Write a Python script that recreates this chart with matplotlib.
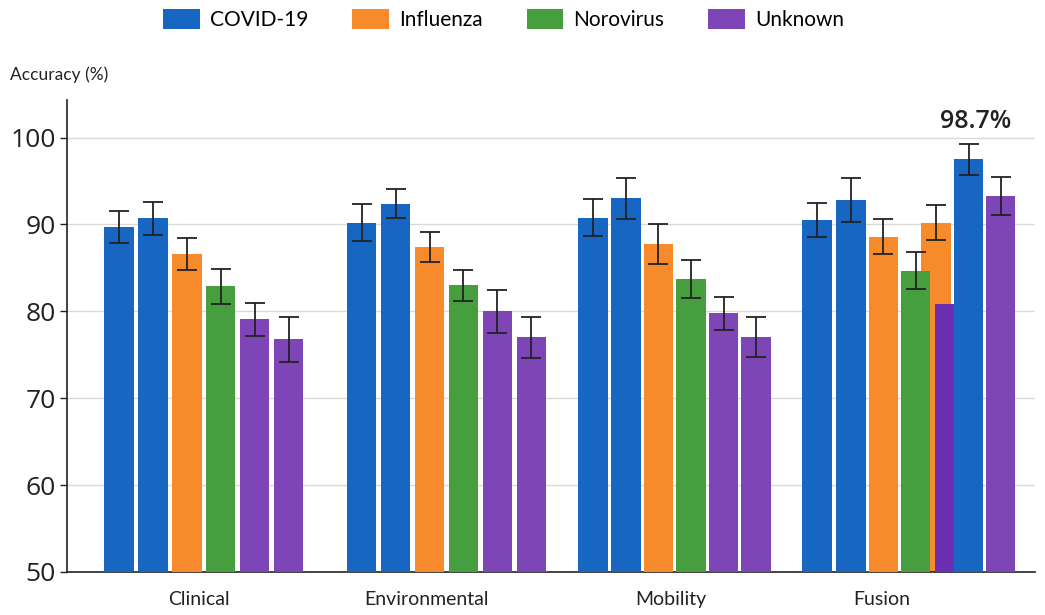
import numpy as np
import matplotlib
matplotlib.use("Agg")
import matplotlib.pyplot as plt
from matplotlib.patches import Patch

plt.rcParams['font.family'] = ['Open Sans', 'DejaVu Sans']
label_font = ['Lato', 'DejaVu Sans']

# data
categories = ['Clinical', 'Environmental', 'Mobility', 'Fusion']
series_names = ['COVID-19', 'Influenza', 'Norovirus', 'Unknown']

clinical_vals = [89.7, 90.7, 86.6, 82.9, 79.1, 76.8]
clinical_err = [1.8, 1.9, 1.8, 2.0, 1.9, 2.6]
environmental_vals = [90.2, 92.4, 87.4, 83.0, 80.0, 77.0]
environmental_err = [2.1, 1.7, 1.7, 1.8, 2.5, 2.4]
mobility_vals = [90.8, 93.0, 87.7, 83.7, 79.8, 77.1]
mobility_err = [2.1, 2.4, 2.3, 2.2, 1.9, 2.3]
group_series = ['COVID-19', 'COVID-19', 'Influenza', 'Norovirus', 'Unknown', 'Unknown']

fusion_vals = [90.5, 92.8, 88.6, 84.7, 90.2, 80.8, 97.5, 93.3]
fusion_err = [2.0, 2.5, 2.0, 2.1, 2.0, np.nan, 1.8, 2.2]
fusion_series = ['COVID-19', 'COVID-19', 'Influenza', 'Norovirus', 'Influenza',
                 'Unknown', 'COVID-19', 'Unknown']
peak_label = '98.7%'

colors = {'COVID-19': '#1766c2', 'Influenza': '#f78a2a',
          'Norovirus': '#479e3f', 'Unknown': '#7d45b6'}

# layout (slot units: one slot = one bar pitch)
group_starts = [1.53, 8.68, 15.5]
pitch = [1.0, 1.0, 0.96]
fusion_pos = [22.1, 23.1, 24.05, 25.0, 25.6, 25.97, 26.56, 27.5]
fusion_z = [3, 3, 3, 4, 2, 5, 6, 3]
tick_pos = [3.9, 10.6, 17.8, 24.0]
bw = 0.87

fig = plt.figure(figsize=(10.45, 6.15), dpi=100)
ax = fig.add_axes([0.064, 0.07, 0.926, 0.767])

for start, p, vals, errs in zip(group_starts, pitch,
                                [clinical_vals, environmental_vals, mobility_vals],
                                [clinical_err, environmental_err, mobility_err]):
    xs = start + p * np.arange(len(vals))
    for x, v, e, s in zip(xs, vals, errs, group_series):
        ax.bar(x, v - 50, bottom=50, width=bw, color=colors[s], zorder=3)
        ax.errorbar(x, v, yerr=e, fmt='none', ecolor='#222222', elinewidth=1.3,
                    capsize=7, capthick=1.3, zorder=8)

for x, v, e, s, z in zip(fusion_pos, fusion_vals, fusion_err, fusion_series, fusion_z):
    c = colors[s] if not (s == 'Unknown' and np.isnan(e)) else '#6a2fb3'
    w = bw if not np.isnan(e) else 0.8
    ax.bar(x, v - 50, bottom=50, width=w, color=c, zorder=z)
    if not np.isnan(e):
        ax.errorbar(x, v, yerr=e, fmt='none', ecolor='#222222', elinewidth=1.3,
                    capsize=7, capthick=1.3, zorder=8)

best = int(np.argmax(fusion_vals))
ax.text(fusion_pos[best] + 0.2, 100.4, peak_label, ha='center', va='bottom',
        fontsize=18, fontweight='semibold', color='#222222')

ax.set_ylim(50, 104.3)
ax.set_xlim(0, 28.5)
ax.set_yticks([50, 60, 70, 80, 90, 100])
ax.tick_params(axis='y', labelsize=19, length=5, width=1, colors='#222222', pad=3)
ax.set_xticks(tick_pos)
ax.set_xticklabels(categories, fontsize=14, family=label_font)
ax.tick_params(axis='x', length=0, pad=14, colors='#222222')
ax.grid(axis='y', color='#d9d9d9', linewidth=1, zorder=0)
ax.set_axisbelow(True)
for side in ['top', 'right']:
    ax.spines[side].set_visible(False)
for side in ['left', 'bottom']:
    ax.spines[side].set_color('#222222')
    ax.spines[side].set_linewidth(1.2)

fig.text(0.01, 0.87, 'Accuracy (%)', fontsize=12.5, color='#222222', family=label_font)

handles = [Patch(facecolor=colors[n], label=n) for n in series_names]
fig.legend(handles=handles, loc='center', bbox_to_anchor=(0.482, 0.968), ncol=4,
           frameon=False, handlelength=1.75, handleheight=1.1,
           columnspacing=2.1, handletextpad=0.5,
           prop={'family': label_font, 'size': 15})

fig.savefig('out.png', dpi=100, facecolor='white')
